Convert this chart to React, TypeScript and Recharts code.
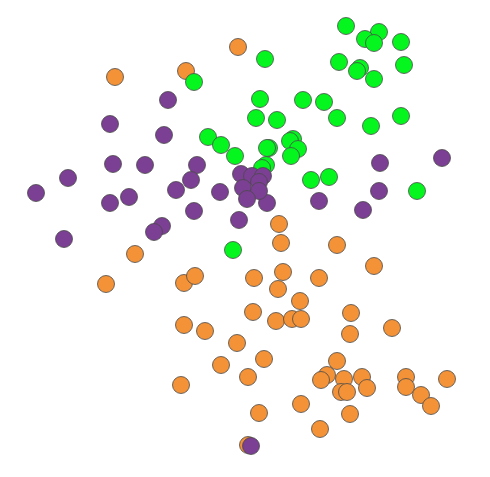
import React from 'react';
import { ScatterChart, Scatter, XAxis, YAxis } from 'recharts';

// point positions (x right, y up, 0..490 / 0..477)
const orangeX = [238, 115, 186, 135, 106, 184, 195, 184, 205, 237, 221, 181, 248, 281, 337, 374, 283, 254, 319, 278, 300, 253, 276, 292, 301, 351, 350, 392, 264, 248, 337, 327, 321, 344, 341, 347, 362, 367, 406, 406, 421, 431, 447, 301, 259, 350, 320, 279];
const orangeY = [430, 400, 406, 223, 193, 194, 201, 152, 146, 134, 112, 92, 32, 234, 232, 211, 205, 199, 199, 188, 176, 165, 156, 158, 158, 164, 143, 149, 118, 100, 116, 102, 97, 98, 85, 85, 100, 89, 100, 90, 82, 71, 98, 73, 64, 63, 48, 253];

const greenX = [194, 208, 221, 235, 346, 379, 365, 374, 401, 265, 339, 360, 357, 374, 404, 260, 303, 324, 256, 277, 337, 371, 401, 293, 290, 298, 291, 269, 267, 266, 262, 311, 329, 417, 233];
const greenY = [395, 340, 332, 321, 451, 445, 438, 434, 435, 418, 415, 409, 406, 398, 412, 378, 377, 375, 359, 357, 359, 351, 361, 338, 336, 328, 321, 329, 329, 312, 309, 297, 300, 286, 227];

const purpleX = [168, 110, 164, 113, 145, 197, 68, 36, 191, 176, 220, 110, 129, 194, 239, 162, 154, 64, 380, 442, 379, 319, 363, 267, 241, 252, 263, 259, 243, 259, 247, 251];
const purpleY = [377, 353, 342, 313, 312, 312, 299, 284, 297, 287, 285, 274, 280, 266, 257, 251, 245, 238, 314, 319, 286, 276, 267, 274, 303, 301, 301, 295, 289, 286, 278, 31];

const toPoints = (xs: number[], ys: number[]) => xs.map((x, i) => ({ x, y: ys[i] }));

const dot = (fill: string) => (props: any) => (
  <circle cx={props.cx} cy={props.cy} r={8.5} fill={fill} stroke="#4a4a4a" strokeWidth={0.8} />
);

export default function App() {
  return (
    <div style={{ position: 'absolute', left: 0, top: 0 }}>
      <ScatterChart width={490} height={477} margin={{ top: 0, right: 0, bottom: 0, left: 0 }}>
        <XAxis type="number" dataKey="x" domain={[0, 490]} hide />
        <YAxis type="number" dataKey="y" domain={[0, 477]} hide />
        <Scatter data={toPoints(orangeX, orangeY)} fill="#F39237" shape={dot('#F39237')} isAnimationActive={false} />
        <Scatter data={toPoints(greenX, greenY)} fill="#05F51F" shape={dot('#05F51F')} isAnimationActive={false} />
        <Scatter data={toPoints(purpleX, purpleY)} fill="#7B3F93" shape={dot('#7B3F93')} isAnimationActive={false} />
      </ScatterChart>
    </div>
  );
}
